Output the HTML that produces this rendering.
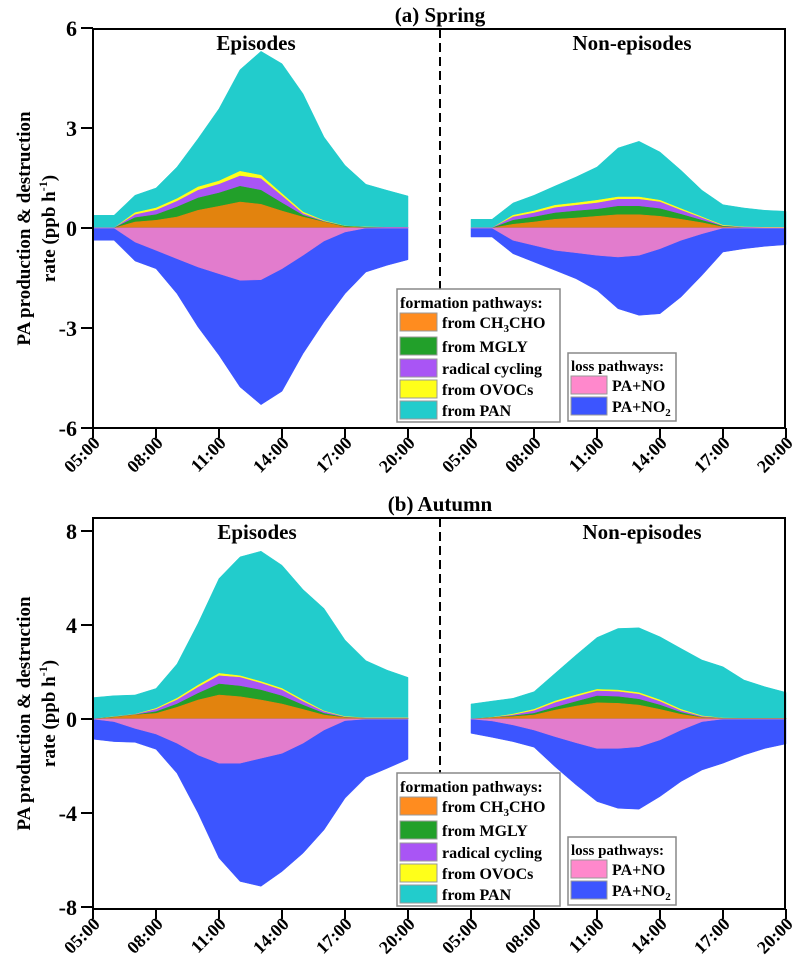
<!DOCTYPE html>
<html><head><meta charset="utf-8"><style>
html,body{margin:0;padding:0;background:#fff;}
svg{display:block;font-family:"Liberation Serif",serif;font-weight:bold;}
</style></head><body>
<svg id="chart" width="799" height="963" viewBox="0 0 799 963" xmlns="http://www.w3.org/2000/svg"></svg>
<script>
// ---- data (stacked cumulative tops, ppb/h), hourly 05:00..20:00 ----
const hours = ["05:00","06:00","07:00","08:00","09:00","10:00","11:00","12:00","13:00","14:00","15:00","16:00","17:00","18:00","19:00","20:00"];
const tickLabels = ["05:00","08:00","11:00","14:00","17:00","20:00"];
const seriesNames = ["from CH3CHO","from MGLY","radical cycling","from OVOCs","from PAN"];

const spEpCH3CHO = [0,0,0.18,0.23,0.33,0.53,0.65,0.78,0.71,0.51,0.33,0.18,0.03,0.01,0,0];
const spEpMGLY   = [0,0,0.31,0.40,0.63,0.90,1.05,1.25,1.13,0.75,0.38,0.19,0.05,0.02,0.01,0.01];
const spEpRad    = [0,0,0.40,0.53,0.80,1.13,1.31,1.56,1.48,0.96,0.43,0.20,0.05,0.02,0.02,0.02];
const spEpOVOC   = [0,0,0.46,0.60,0.88,1.23,1.41,1.70,1.58,1.03,0.48,0.22,0.06,0.03,0.02,0.02];
const spEpPAN    = [0.38,0.38,0.98,1.2,1.83,2.68,3.58,4.75,5.3,4.93,4.03,2.73,1.88,1.31,1.13,0.96];
const spEpNO     = [0,0,-0.42,-0.67,-0.92,-1.17,-1.37,-1.57,-1.55,-1.22,-0.82,-0.39,-0.12,0,0,0];
const spEpNO2    = [-0.37,-0.37,-0.99,-1.22,-1.97,-2.97,-3.82,-4.77,-5.3,-4.9,-3.77,-2.82,-1.97,-1.32,-1.12,-0.95];

const spNeCH3CHO = [0,0,0.11,0.18,0.26,0.30,0.35,0.40,0.40,0.35,0.26,0.16,0.03,0,0,0];
const spNeMGLY   = [0,0,0.23,0.33,0.45,0.51,0.56,0.65,0.65,0.58,0.41,0.23,0.05,0.01,0,0];
const spNeRad    = [0,0,0.33,0.45,0.61,0.68,0.75,0.86,0.86,0.78,0.53,0.30,0.06,0.02,0.01,0.01];
const spNeOVOC   = [0,0,0.38,0.51,0.68,0.75,0.83,0.93,0.93,0.83,0.58,0.33,0.08,0.03,0.02,0.02];
const spNePAN    = [0.26,0.26,0.75,0.98,1.26,1.53,1.83,2.4,2.6,2.28,1.73,1.13,0.7,0.6,0.53,0.5];
const spNeNO     = [0,0,-0.37,-0.52,-0.67,-0.74,-0.82,-0.87,-0.82,-0.62,-0.37,-0.17,0,0,0,0];
const spNeNO2    = [-0.27,-0.27,-0.77,-1.02,-1.27,-1.52,-1.87,-2.42,-2.62,-2.57,-2.07,-1.42,-0.72,-0.62,-0.55,-0.5];

const auEpCH3CHO = [0,0.07,0.17,0.24,0.5,0.81,1.02,0.95,0.81,0.64,0.41,0.17,0.06,0.02,0.02,0.02];
const auEpMGLY   = [0,0.08,0.18,0.31,0.64,1.09,1.49,1.4,1.23,0.98,0.59,0.24,0.07,0.03,0.03,0.03];
const auEpRad    = [0,0.09,0.19,0.41,0.81,1.35,1.84,1.77,1.52,1.23,0.74,0.31,0.08,0.04,0.04,0.04];
const auEpOVOC   = [0,0.1,0.2,0.45,0.88,1.44,1.94,1.84,1.59,1.3,0.81,0.34,0.1,0.05,0.05,0.05];
const auEpPAN    = [0.91,0.99,1.02,1.3,2.34,4.07,5.98,6.9,7.14,6.54,5.51,4.7,3.36,2.48,2.08,1.77];
const auEpNO     = [0,-0.11,-0.4,-0.64,-1.03,-1.53,-1.88,-1.88,-1.67,-1.46,-1.03,-0.47,-0.07,0,0,0];
const auEpNO2    = [-0.86,-0.96,-0.99,-1.29,-2.31,-4.0,-5.92,-6.91,-7.12,-6.49,-5.71,-4.72,-3.37,-2.48,-2.1,-1.71];

const auNeCH3CHO = [0,0.06,0.1,0.17,0.38,0.55,0.69,0.67,0.59,0.41,0.2,0.06,0.02,0.02,0.02,0.02];
const auNeMGLY   = [0,0.06,0.13,0.24,0.5,0.74,0.98,0.95,0.84,0.59,0.28,0.07,0.03,0.03,0.03,0.03];
const auNeRad    = [0,0.06,0.17,0.35,0.69,0.95,1.19,1.16,1.05,0.74,0.35,0.1,0.03,0.03,0.03,0.03];
const auNeOVOC   = [0,0.07,0.21,0.41,0.76,1.02,1.26,1.23,1.12,0.81,0.41,0.13,0.04,0.03,0.03,0.03];
const auNePAN    = [0.64,0.76,0.88,1.16,1.94,2.72,3.47,3.85,3.88,3.5,3.0,2.51,2.22,1.66,1.37,1.13];
const auNeNO     = [0,-0.08,-0.25,-0.47,-0.75,-1.01,-1.25,-1.25,-1.18,-0.89,-0.47,-0.11,0,0,0,0];
const auNeNO2    = [-0.61,-0.78,-0.96,-1.2,-2.03,-2.8,-3.51,-3.8,-3.84,-3.3,-2.66,-2.17,-1.88,-1.53,-1.25,-1.06];

const spTicks = [6,3,0,-3,-6];
const auTicks = [8,4,0,-4,-8];

const NS = "http://www.w3.org/2000/svg";
const svg = document.getElementById("chart");
const C = {orange:"#e2830e",green:"#22a02a",purple:"#a955f5",yellow:"#ffff1a",cyan:"#22cccc",pink:"#e27ccd",blue:"#3c55ff"};
const LC = {orange:"#ff8c1f",pink:"#ff88cc"};

function mk(tag, attrs, parent){ const e=document.createElementNS(NS,tag); for(const k in attrs) e.setAttribute(k,attrs[k]); (parent||svg).appendChild(e); return e; }

const X0 = 93, PX = 21;
function xPos(seg, i){ return X0 + (seg*18 + i)*PX; }

function band(g, seg, lower, upper, yS, color, name){
  let d = "";
  upper.forEach((v,i)=>{ d += (i?"L":"M")+xPos(seg,i).toFixed(1)+","+yS(v).toFixed(1); });
  for(let i=lower.length-1;i>=0;i--) d += "L"+xPos(seg,i).toFixed(1)+","+yS(lower[i]).toFixed(1);
  const p = mk("path",{d:d+"Z",fill:color,stroke:color,"stroke-width":"0.5"},g);
  
  
}

function panel(cfg){
  const g = mk("g",{});
  
  
  const yS = v => cfg.y0 - v*cfg.ppu;
  const zero = hours.map(()=>0);
  cfg.sets.forEach((s,seg)=>{
    const tops=[s.a,s.b,s.c,s.d,s.e], cols=[C.orange,C.green,C.purple,C.yellow,C.cyan];
    const nm=["ch3cho","mgly","radical-cycling","ovocs","pan"];
    for(let k=4;k>=0;k--){ band(g,seg,zero,tops[k],yS,cols[k],(seg?"non-episodes-":"episodes-")+nm[k]+"-area"); }
    band(g,seg,zero,s.no2,yS,C.blue,(seg?"non-episodes-":"episodes-")+"pa-no2-area");
    band(g,seg,zero,s.no,yS,C.pink,(seg?"non-episodes-":"episodes-")+"pa-no-area");
  });
  const fr = mk("rect",{x:X0,y:cfg.top,width:785-X0,height:cfg.bottom-cfg.top,fill:"none",stroke:"#000","stroke-width":"2"},g);
   
  cfg.ticks.forEach(t=>{
    mk("line",{x1:X0-12,x2:X0,y1:yS(t),y2:yS(t),stroke:"#000","stroke-width":"2"},g);
    const tx = mk("text",{x:X0-16,y:yS(t)+8,"text-anchor":"end","font-size":"22"},g);
    tx.textContent = t;
     
  });
  [0,1].forEach(seg=>{
    tickLabels.forEach((lab,k)=>{
      const x = xPos(seg,k*3);
      mk("line",{x1:x,x2:x,y1:cfg.bottom,y2:cfg.bottom+10,stroke:"#000","stroke-width":"2"},g);
      const tx = mk("text",{transform:`translate(${x+8},${cfg.bottom+16}) rotate(-45)`,"text-anchor":"end","font-size":"18"},g);
      tx.textContent = lab;
       
    });
  });
  const dv = mk("line",{x1:440,x2:440,y1:cfg.top,y2:cfg.top+260,stroke:"#000","stroke-width":"2","stroke-dasharray":"9,5"},g);
   
  const ti = mk("text",{x:440,y:cfg.top-7,"text-anchor":"middle","font-size":"21"},g);
  ti.textContent = cfg.title;  
  const e1 = mk("text",{x:cfg.epX,y:cfg.top+21,"text-anchor":"middle","font-size":"21"},g);
  e1.textContent="Episodes";  
  const e2 = mk("text",{x:cfg.neX,y:cfg.top+21,"text-anchor":"middle","font-size":"21"},g);
  e2.textContent="Non-episodes";  
  const yc = (cfg.top+cfg.bottom)/2;
  const a1 = mk("text",{transform:`translate(30,${yc}) rotate(-90)`,"text-anchor":"middle","font-size":"19"},g);
  a1.textContent="PA production & destruction";  
  const a2 = mk("text",{transform:`translate(55,${yc}) rotate(-90)`,"text-anchor":"middle","font-size":"19"},g);
   
  a2.innerHTML = 'rate (ppb h<tspan font-size="12" dy="-8">-1</tspan><tspan dy="8">)</tspan>';
  const L = cfg.legTop;
  const lg = mk("g",{},g);  
  mk("rect",{x:397,y:L,width:163,height:133,fill:"#fff",stroke:"#888","stroke-width":"1.5"},lg);
  const lt = mk("text",{x:400,y:L+19,"font-size":"16"},lg); lt.textContent="formation pathways:";
  const items=[[LC.orange,'from CH<tspan font-size="11" dy="4">3</tspan><tspan dy="-4">CHO</tspan>'],[C.green,"from MGLY"],[C.purple,"radical cycling"],[C.yellow,"from OVOCs"],[C.cyan,"from PAN"]];
  const rows=[24,48,70,91,112];
  items.forEach((it,k)=>{
    const r=mk("rect",{x:400,y:L+rows[k],width:37,height:18,fill:it[0],stroke:"#999","stroke-width":"1"},lg);
     
    const t=mk("text",{x:442,y:L+rows[k]+15,"font-size":"16"},lg); t.innerHTML=it[1];
     
  });
  const lg2 = mk("g",{},g);  
  mk("rect",{x:568,y:L+64,width:108,height:68,fill:"#fff",stroke:"#888","stroke-width":"1.5"},lg2);
  const lt2 = mk("text",{x:571,y:L+82,"font-size":"15"},lg2); lt2.textContent="loss pathways:";
  [[LC.pink,"PA+NO"],[C.blue,'PA+NO<tspan font-size="11" dy="4">2</tspan>']].forEach((it,k)=>{
    const yy=L+87+k*21;
    const r=mk("rect",{x:571,y:yy,width:36,height:18,fill:it[0],stroke:"#999","stroke-width":"1"},lg2);
     
    const t=mk("text",{x:612,y:yy+15,"font-size":"16"},lg2); t.innerHTML=it[1];
     
  });
}

panel({name:"spring-panel",title:"(a) Spring",y0:228,ppu:100/3,top:29,bottom:428,ticks:spTicks,epX:256,neX:632,legTop:289,
  sets:[{a:spEpCH3CHO,b:spEpMGLY,c:spEpRad,d:spEpOVOC,e:spEpPAN,no:spEpNO,no2:spEpNO2},
        {a:spNeCH3CHO,b:spNeMGLY,c:spNeRad,d:spNeOVOC,e:spNePAN,no:spNeNO,no2:spNeNO2}]});
panel({name:"autumn-panel",title:"(b) Autumn",y0:719,ppu:188/8,top:518,bottom:909,ticks:auTicks,epX:257,neX:642,legTop:773,
  sets:[{a:auEpCH3CHO,b:auEpMGLY,c:auEpRad,d:auEpOVOC,e:auEpPAN,no:auEpNO,no2:auEpNO2},
        {a:auNeCH3CHO,b:auNeMGLY,c:auNeRad,d:auNeOVOC,e:auNePAN,no:auNeNO,no2:auNeNO2}]});
</script>
</body></html>
